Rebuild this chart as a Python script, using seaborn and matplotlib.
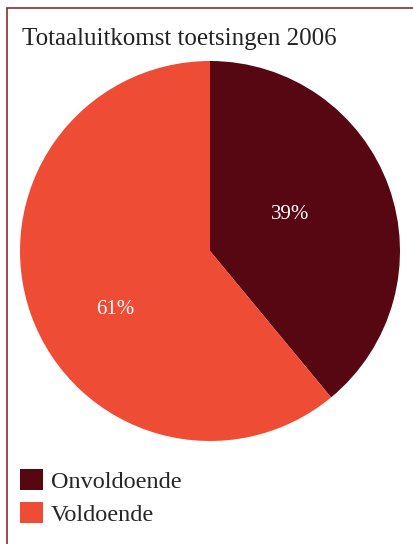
import matplotlib
matplotlib.use("Agg")
import matplotlib.pyplot as plt
import seaborn as sns
from matplotlib.patches import Rectangle, Patch

sns.set_style("white")
plt.rcParams['font.family'] = ['Liberation Serif', 'DejaVu Serif']

title = "Totaaluitkomst toetsingen 2006"
categories = ["Onvoldoende", "Voldoende"]
values = [39, 61]
colors = ["#560712", "#ef4c36"]
label_pos = [(0.42, 0.19), (-0.50, -0.31)]

W, H = 413, 544
fig = plt.figure(figsize=(W / 100, H / 100), dpi=100)
fig.patch.set_facecolor("white")

# border (left and top visible)
fig.patches.append(Rectangle((7 / W, -0.05), 1.2, (H - 8) / H + 0.05, transform=fig.transFigure,
                             fill=False, edgecolor="#8a2a33", linewidth=1.2))

fig.text(22 / W, 1 - 39 / H, title, fontsize=18, color="#222222", va="center", ha="left")

r = 190
cx, cy = 210, 251
ax = fig.add_axes([(cx - r) / W, 1 - (cy + r) / H, 2 * r / W, 2 * r / H])
wedges, texts, autotexts = ax.pie(values, colors=colors, startangle=90, counterclock=False,
                                  autopct=lambda p: f"{p:.0f}%", pctdistance=0.52,
                                  wedgeprops=dict(linewidth=0),
                                  textprops=dict(color="white", fontsize=15))
for t, p in zip(autotexts, label_pos):
    t.set_position(p)
ax.set_aspect("equal")
ax.set_xlim(-1, 1)
ax.set_ylim(-1, 1)
ax.axis("off")

handles = [Patch(facecolor=c, edgecolor="none") for c in colors]
fig.legend(handles, categories, loc="upper left", bbox_to_anchor=(13 / W, 1 - 462 / H),
           frameon=False, fontsize=17.5, handlelength=0.95, handleheight=0.95,
           handletextpad=0.3, labelspacing=0.38, borderaxespad=0, borderpad=0.3)

fig.savefig("out.png", dpi=100)
